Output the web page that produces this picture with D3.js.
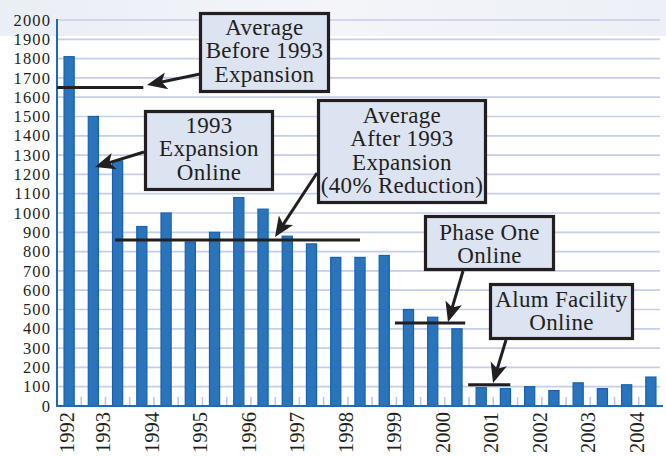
<!DOCTYPE html>
<html>
<head>
<meta charset="utf-8">
<script src="https://cdn.jsdelivr.net/npm/d3@7"></script>
<style>
  html, body { margin: 0; padding: 0; background: #ffffff; }
  svg { display: block; }
</style>
</head>
<body>
<svg id="chart" width="666" height="456"></svg>
<script>
// ---------------- data ----------------
const periods = d3.range(25).map(i => 1992 + i * 0.5);   // half-year periods
const values = [1810, 1500, 1270, 930, 1000, 850, 900, 1080, 1020, 880, 840, 770, 770, 780,
                500, 460, 400, 95, 90, 100, 80, 120, 90, 110, 150];
const yTicks = d3.range(0, 2001, 100);
const yearLabels = [1992, 1993, 1994, 1995, 1996, 1997, 1998, 1999, 2000, 2001, 2002, 2003, 2004];

// average levels (value, start period, end period)
const avgValues = [1650, 860, 430, 110];
const avgStart  = [1992.0, 1993.2, 1998.97, 2000.48];
const avgEnd    = [1993.78, 1998.25, 2000.42, 2001.35];

const boxTexts = [
  ["Average", "Before 1993", "Expansion"],
  ["1993", "Expansion", "Online"],
  ["Average", "After 1993", "Expansion", "(40% Reduction)"],
  ["Phase One", "Online"],
  ["Alum Facility", "Online"]
];

// ---------------- layout ----------------
const W = 666, H = 456;
const mLeft = 57, mRight = 663, mTop = 20, mBottom = 406;
const FONT = "Liberation Serif";
const svg = d3.select("#chart");

const x = d3.scaleBand().domain(periods).range([mLeft, mRight]).paddingInner(0.54).paddingOuter(0.27);
const xt = d3.scaleLinear().domain([1992, 2004.5]).range([mLeft, mRight]);
const y = d3.scaleLinear().domain([0, 2000]).range([mBottom, mTop]);

// background band
const defs = svg.append("defs");
const grad = defs.append("linearGradient").attr("id", "bg").attr("x1", 0).attr("x2", 1).attr("y1", 0).attr("y2", 0);
grad.append("stop").attr("offset", "0%").attr("stop-color", "#eaeef5");
grad.append("stop").attr("offset", "50%").attr("stop-color", "#f3f5f9");
grad.append("stop").attr("offset", "100%").attr("stop-color", "#edf0f6");
svg.append("rect").attr("x", 0).attr("y", 0).attr("width", W).attr("height", 36).attr("fill", "url(#bg)");

// gridlines
svg.append("g").selectAll("line").data(yTicks.filter(d => d > 0)).join("line")
  .attr("x1", mLeft).attr("x2", 660)
  .attr("y1", d => y(d)).attr("y2", d => y(d))
  .attr("stroke", "#c6cee9").attr("stroke-width", 1.7);

// minor ticks at period boundaries
svg.append("g").selectAll("line").data(periods.slice(1)).join("line")
  .attr("x1", d => xt(d)).attr("x2", d => xt(d))
  .attr("y1", mBottom - 9).attr("y2", mBottom)
  .attr("stroke", "#bcc7e8").attr("stroke-width", 1.6);

// bars
svg.append("g").selectAll("rect").data(values).join("rect")
  .attr("x", (d, i) => x(periods[i]) + 0.5)
  .attr("y", d => y(d))
  .attr("width", x.bandwidth() - 1)
  .attr("height", d => mBottom - y(d))
  .attr("fill", "#2b74bb")
  .attr("stroke", "#1563ae")
  .attr("stroke-width", 1.2);

// axes lines
svg.append("line").attr("x1", mLeft).attr("x2", mLeft).attr("y1", mTop - 1).attr("y2", mBottom + 1)
  .attr("stroke", "#1f6ab4").attr("stroke-width", 2);
svg.append("line").attr("x1", mLeft).attr("x2", mRight).attr("y1", mBottom).attr("y2", mBottom)
  .attr("stroke", "#1f6ab4").attr("stroke-width", 2);

// y tick labels
svg.append("g").selectAll("text").data(yTicks).join("text")
  .attr("x", 51).attr("y", d => y(d)).attr("dy", "0.34em")
  .attr("text-anchor", "end")
  .attr("font-family", FONT).attr("font-size", 16.5)
  .attr("letter-spacing", 1.1)
  .attr("fill", "#231f20")
  .text(d => d);

// year labels
svg.append("g").selectAll("text").data(yearLabels).join("text")
  .attr("transform", d => {
    const px = d === 1992 ? x(1992) + x.bandwidth() / 2 : xt(d);
    return `translate(${px - 2},412) rotate(-90)`;
  })
  .attr("dy", "0.34em")
  .attr("text-anchor", "end")
  .attr("font-family", FONT).attr("font-size", 20.5)
  .attr("fill", "#231f20")
  .text(d => d);

// average lines
svg.append("g").selectAll("line").data(avgValues).join("line")
  .attr("x1", (d, i) => xt(avgStart[i])).attr("x2", (d, i) => xt(avgEnd[i]))
  .attr("y1", d => y(d)).attr("y2", d => y(d))
  .attr("stroke", "#231f20").attr("stroke-width", 3);

// annotation boxes (pixel layout)
const boxes = [
  { x0: 199, y0: 12, x1: 330, y1: 93, base: 35 },
  { x0: 144, y0: 110, x1: 274, y1: 191, base: 133 },
  { x0: 317, y0: 99, x1: 487, y1: 204, base: 123 },
  { x0: 424, y0: 215, x1: 555, y1: 271, base: 240 },
  { x0: 489, y0: 283, x1: 634, y1: 340, base: 307 }
];
const arrows = [
  { from: [200, 74], to: [147, 85] },
  { from: [144, 152], to: [95, 167] },
  { from: [317, 173], to: [275, 237] },
  { from: [463, 271], to: [448, 322] },
  { from: [506, 340], to: [493, 383] }
];

const ag = svg.append("g");
arrows.forEach(a => {
  const dx = a.to[0] - a.from[0], dy = a.to[1] - a.from[1];
  const ang = Math.atan2(dy, dx) * 180 / Math.PI;
  const len = Math.hypot(dx, dy);
  const g = ag.append("g").attr("transform", `translate(${a.from[0]},${a.from[1]}) rotate(${ang})`);
  g.append("line").attr("x1", 0).attr("x2", len - 10).attr("y1", 0).attr("y2", 0)
    .attr("stroke", "#231f20").attr("stroke-width", 3);
  g.append("path")
    .attr("d", `M${len},0 L${len - 20},-8.5 L${len - 15},0 L${len - 20},8.5 Z`)
    .attr("fill", "#231f20");
});

const bg = svg.append("g");
boxes.forEach((b, i) => {
  bg.append("rect").attr("x", b.x0 + 1.5).attr("y", b.y0 + 1.5)
    .attr("width", b.x1 - b.x0 - 3).attr("height", b.y1 - b.y0 - 3)
    .attr("fill", "#dce3f1").attr("stroke", "#231f20").attr("stroke-width", 3.2);
  const cx = (b.x0 + b.x1) / 2;
  bg.append("text")
    .attr("font-family", FONT).attr("font-size", 23)
    .attr("letter-spacing", 0.3)
    .attr("fill", "#231f20").attr("text-anchor", "middle")
    .selectAll("tspan").data(boxTexts[i]).join("tspan")
    .attr("x", cx).attr("y", (d, j) => b.base + j * 23.3)
    .text(d => d);
});
</script>
</body>
</html>
